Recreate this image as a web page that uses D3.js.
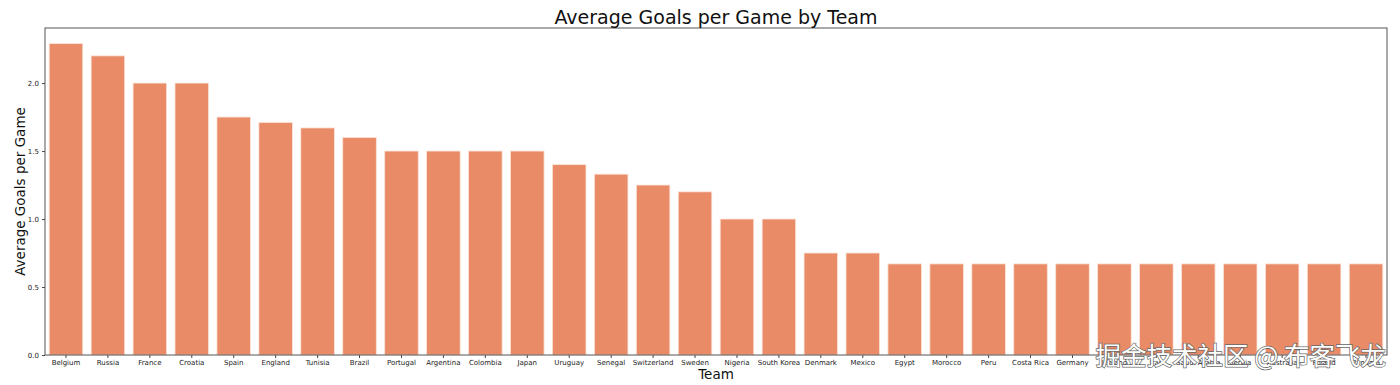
<!DOCTYPE html>
<html>
<head>
<meta charset="utf-8">
<script src="https://cdn.jsdelivr.net/npm/d3@7"></script>
<style>
  body { margin: 0; background: #fff; }
  svg { display: block; font-family: "DejaVu Sans", sans-serif; }
</style>
</head>
<body>
<div id="chart"></div>
<script>
// values (2018 world cup, goals / games)
var teams = ["Belgium", "Russia", "France", "Croatia", "Spain", "England", "Tunisia", "Brazil",
    "Portugal", "Argentina", "Colombia", "Japan", "Uruguay", "Senegal", "Switzerland", "Sweden",
    "Nigeria", "South Korea", "Denmark", "Mexico", "Egypt", "Morocco", "Peru", "Costa Rica",
    "Germany", "Iceland", "Iran", "Saudi Arabia", "Serbia", "Australia", "Poland", "Panama"];
var avgGoals = [2.29, 2.2, 2.0, 2.0, 1.75, 1.71, 1.67, 1.6,
    1.5, 1.5, 1.5, 1.5, 1.4, 1.33, 1.25, 1.2,
    1.0, 1.0, 0.75, 0.75, 0.67, 0.67, 0.67, 0.67,
    0.67, 0.67, 0.67, 0.67, 0.67, 0.67, 0.67, 0.67];
var yTicks = [0, 0.5, 1.0, 1.5, 2.0];

var width = 1400, height = 385;
var margin = {top: 28, right: 13, bottom: 30, left: 45};
var innerW = width - margin.left - margin.right,
    innerH = height - margin.top - margin.bottom;

var svg = d3.select("#chart").append("svg")
    .attr("width", width)
    .attr("height", height);

var g = svg.append("g")
    .attr("transform", "translate(" + margin.left + "," + margin.top + ")");

var x = d3.scaleBand()
    .domain(teams)
    .range([0, innerW])
    .paddingInner(0.2)
    .paddingOuter(0.1);

var y = d3.scaleLinear()
    .domain([0, 2.405])
    .range([innerH, 0]);

// bars
g.append("g")
    .selectAll("rect")
    .data(teams)
    .enter().append("rect")
    .attr("x", function (d) { return x(d); })
    .attr("y", function (d, i) { return y(avgGoals[i]); })
    .attr("width", x.bandwidth())
    .attr("height", function (d, i) { return innerH - y(avgGoals[i]); })
    .attr("fill", "#e88b66")
    .attr("stroke", "#fbe3d8")
    .attr("stroke-width", 0.8);

// axes
var xAxis = g.append("g")
    .attr("transform", "translate(0," + innerH + ")")
    .call(d3.axisBottom(x).tickSizeOuter(0).tickSize(3).tickPadding(2));
var yAxis = g.append("g")
    .call(d3.axisLeft(y).tickValues(yTicks).tickFormat(d3.format(".1f"))
        .tickSizeOuter(0).tickSize(3).tickPadding(3));

[xAxis, yAxis].forEach(function (a) {
    a.select(".domain").remove();
    a.selectAll("text").attr("font-size", 7).attr("fill", "#222")
        .attr("font-family", "DejaVu Sans, sans-serif");
    a.selectAll("line").attr("stroke", "#444");
});

// frame
g.append("rect")
    .attr("width", innerW)
    .attr("height", innerH)
    .attr("fill", "none")
    .attr("stroke", "#555")
    .attr("stroke-width", 1);

// titles
svg.append("text")
    .attr("x", margin.left + innerW / 2)
    .attr("y", 24)
    .attr("text-anchor", "middle")
    .attr("font-size", 19)
    .attr("fill", "#111")
    .text("Average Goals per Game by Team");

svg.append("text")
    .attr("x", margin.left + innerW / 2)
    .attr("y", 379)
    .attr("text-anchor", "middle")
    .attr("font-size", 13.5)
    .attr("fill", "#111")
    .text("Team");

svg.append("text")
    .attr("transform", "translate(25," + (margin.top + innerH / 2) + ") rotate(-90)")
    .attr("text-anchor", "middle")
    .attr("font-size", 13.5)
    .attr("fill", "#111")
    .text("Average Goals per Game");

// watermark
svg.append("text")
    .attr("x", 1386)
    .attr("y", 365)
    .attr("text-anchor", "end")
    .attr("font-family", "Noto Sans CJK SC, sans-serif")
    .attr("font-size", 25.5)
    .attr("fill", "#fff")
    .attr("stroke", "#666")
    .attr("stroke-width", 1.4)
    .attr("paint-order", "stroke")
    .text("掘金技术社区 @ 布客飞龙");
</script>
</body>
</html>
